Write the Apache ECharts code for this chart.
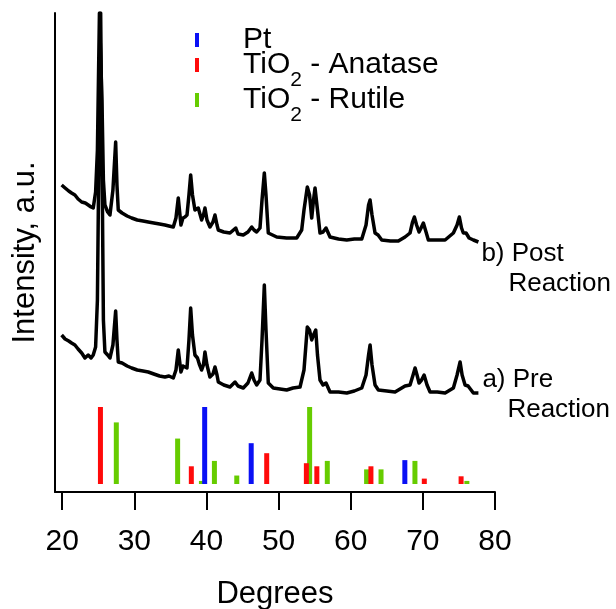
<!DOCTYPE html>
<html>
<head>
<meta charset="utf-8">
<script src="https://cdn.jsdelivr.net/npm/echarts@6/dist/echarts.min.js"></script>
<style>html,body{margin:0;padding:0;background:#fff}#c{width:616px;height:609px}</style>
</head>
<body>
<div id="c"></div>
<script>
// Reference peak positions (2θ, relative intensity %)
const ptPeaks = [[39.75,100],[46.2,53],[67.5,31]];
const anatasePeaks = [[25.3,100],[37.9,23],[48.35,40],[53.85,27],[55.3,23],[62.8,23],[70.2,7],[75.3,10]];
const rutilePeaks = [[27.5,80],[36.0,59],[39.3,4],[41.1,30],[44.2,11],[54.3,100],[56.75,30],[62.2,19],[64.2,19],[68.9,30],[76.1,4]];

// Measured patterns (2θ, intensity a.u.)
const curvePre = [
[19.92,157],[20.4,153],[20.9,151],[21.3,149],[21.76,147],[22.2,143],[22.7,139],[23.15,134],[23.6,137],[24.0,134],[24.3,137],[24.63,145],
[24.88,192],[25.16,392],[25.33,479],[25.51,342],[25.71,172],[25.92,140],[26.3,137],[26.62,134],[27.03,147],[27.41,181],[27.59,152],[27.77,130],
[28.3,129],[29.0,126],[29.63,124],[30.4,122],[31.2,121],[31.93,120],[32.7,118],[33.5,116],[34.24,115],[34.8,116],[35.4,114],[35.77,122],[36.09,142],[36.46,120],
[36.74,126],[37.02,125],[37.3,124],[37.57,152],[37.81,184],[38.06,157],[38.4,137],[38.75,134],[39.0,128],[39.33,122],[39.58,127],[39.79,140],
[40.07,127],[40.48,115],[40.9,118],[41.18,125],[41.46,117],[41.64,110],[42.4,107],[43.26,105],[43.96,110],[44.37,106],[45.1,104],[45.75,109],
[46.27,119],[46.59,112],[46.96,107],[47.42,112],[47.7,152],[48.02,207],[48.25,162],[48.57,109],[49.26,104],[50.2,103],[51.12,102],[52.0,104],[52.97,105],
[53.52,122],[53.98,165],[54.29,162],[54.59,152],[54.84,157],[55.15,162],[55.39,137],[55.74,112],[56.16,107],[56.57,109],[57.13,100],[58.3,100],
[59.45,99],[60.5,101],[61.53,104],[62.12,117],[62.47,137],[62.68,147],[62.95,127],[63.37,107],[63.83,102],[65.0,101],[66.14,100],[67.53,106],
[68.22,107],[68.64,117],[68.92,124],[69.19,117],[69.47,109],[69.82,112],[70.17,117],[70.58,107],[71.0,100],[72.0,100],[73.08,99],[74.23,104],
[74.74,117],[75.16,130],[75.44,117],[75.85,107],[76.27,106],[77.0,99],[77.7,99]
];
const curvePost = [
[19.92,307],[20.4,304],[20.9,301],[21.3,299],[21.76,297],[22.2,293],[22.7,290],[23.2,289],[23.61,287],[24.0,285],[24.3,284],[24.63,300],
[24.88,342],[25.16,479],[25.33,479],[25.51,392],[25.71,312],[25.92,287],[26.3,280],[26.62,277],[27.03,302],[27.41,350],[27.59,307],[27.77,282],
[28.3,279],[29.0,276],[29.63,274],[30.4,272],[31.2,271],[31.93,270],[32.7,269],[33.5,268],[34.24,267],[34.8,266],[35.4,265],[35.77,274],[36.09,294],[36.46,267],
[36.74,274],[37.02,275],[37.3,277],[37.57,297],[37.81,317],[38.06,297],[38.4,282],[38.86,284],[39.33,272],[39.58,277],[39.79,284],
[40.07,272],[40.48,265],[40.9,270],[41.18,277],[41.46,267],[41.64,262],[42.4,260],[43.26,259],[44.06,264],[44.37,258],[45.1,257],[45.75,260],
[46.27,265],[46.59,262],[46.96,260],[47.42,264],[47.7,292],[48.02,319],[48.25,297],[48.57,259],[49.74,255],[51.1,254],[52.51,254],[53.2,262],
[53.52,282],[53.98,305],[54.29,297],[54.59,274],[54.84,292],[55.05,304],[55.39,282],[55.74,259],[56.16,260],[56.57,264],[57.13,255],[58.3,253],
[59.45,252],[60.5,253],[61.53,253],[62.12,267],[62.47,287],[62.68,292],[62.95,277],[63.37,259],[63.79,257],[64.3,252],[65.5,251],[66.6,251],[67.53,255],
[68.22,259],[68.57,270],[68.82,275],[69.13,267],[69.47,260],[69.75,264],[70.07,269],[70.44,260],[70.76,252],[72.0,252],[73.08,252],[74.23,259],
[74.74,267],[75.06,275],[75.36,264],[75.61,259],[75.99,259],[76.41,254],[77.0,252],[77.7,250]
];
const xTicks = [20,30,40,50,60,70,80];
const labelPre = ['a) Pre', 'Reaction'];
const labelPost = ['b) Post', 'Reaction'];

const FONT = '"Liberation Sans", Arial, sans-serif';
const chart = echarts.init(document.getElementById('c'), null, {renderer:'canvas'});

function legendFor(name, fmt, top) {
  return {
    data: [name], orient: 'vertical', left: 195, top: top, padding: 0,
    icon: 'rect', itemWidth: 4, itemHeight: 14, selectedMode: false,
    formatter: fmt,
    textStyle: {
      fontFamily: FONT, color: '#000',
      rich: {
        g: {width: 39},
        a: {fontSize: 30, fontFamily: FONT, color: '#000'},
        s: {fontSize: 21, fontFamily: FONT, color: '#000', padding: [30,0,0,0]}
      }
    }
  };
}

const barCommon = {
  type: 'bar', xAxisIndex: 0, yAxisIndex: 1, barWidth: 5, barGap: '-100%',
  animation: false, silent: true
};

chart.setOption({
  animation: false,
  backgroundColor: '#fff',
  grid: {left: 55, right: 121, top: 13, bottom: 117, containLabel: false, outerBoundsMode: 'none'},
  legend: [
    legendFor('Pt', '{g|}{a|Pt}', 25),
    legendFor('TiO2 - Anatase', '{g|}{a|TiO}{s|2}{a| - Anatase}', 50),
    legendFor('TiO2 - Rutile', '{g|}{a|TiO}{s|2}{a| - Rutile}', 85)
  ],
  xAxis: {
    type: 'value', min: 19, max: 80,
    name: 'Degrees', nameLocation: 'middle', nameGap: 87,
    nameTextStyle: {fontSize: 31, fontFamily: FONT, color: '#000'},
    axisLine: {show: true, lineStyle: {color: '#000', width: 2}},
    axisTick: {show: true, length: 18, lineStyle: {color: '#000', width: 2}, customValues: xTicks},
    axisLabel: {customValues: xTicks, margin: 35, fontSize: 30, fontFamily: FONT, color: '#000'},
    splitLine: {show: false}
  },
  yAxis: [{
    type: 'value', min: 0, max: 479,
    name: 'Intensity, a.u.', nameLocation: 'middle', nameGap: 14,
    nameTextStyle: {fontSize: 31, fontFamily: FONT, color: '#000'},
    axisLine: {show: true, lineStyle: {color: '#000', width: 2}},
    axisTick: {show: false}, axisLabel: {show: false}, splitLine: {show: false}
  }, {
    type: 'value', min: -10.39, max: 611.69, show: false,
    axisLine: {show: false}, axisTick: {show: false}, axisLabel: {show: false}, splitLine: {show: false}
  }],
  series: [
    Object.assign({name: 'TiO2 - Rutile', data: rutilePeaks, itemStyle: {color: '#66cc00'}}, barCommon),
    Object.assign({name: 'TiO2 - Anatase', data: anatasePeaks, itemStyle: {color: '#ff0a0a'}}, barCommon),
    Object.assign({name: 'Pt', data: ptPeaks, itemStyle: {color: '#0a10f5'}}, barCommon),
    {
      name: 'pre', type: 'line', data: curvePre, xAxisIndex: 0, yAxisIndex: 0,
      showSymbol: false, symbol: 'none', clip: true, silent: true,
      lineStyle: {color: '#000', width: 3.5, join: 'round'}, z: 5,
      endLabel: {show: true, distance: 4, offset: [0, 2], formatter: '{a|' + labelPre[0] + '}\n{r|' + labelPre[1] + '}',
        rich: {a: {fontSize: 26, lineHeight: 30, fontFamily: FONT, color: '#000'},
               r: {fontSize: 26, lineHeight: 30, fontFamily: FONT, color: '#000', padding: [0,0,0,25]}}}
    },
    {
      name: 'post', type: 'line', data: curvePost, xAxisIndex: 0, yAxisIndex: 0,
      showSymbol: false, symbol: 'none', clip: true, silent: true,
      lineStyle: {color: '#000', width: 3.5, join: 'round'}, z: 5,
      endLabel: {show: true, distance: 3, offset: [0, 27], formatter: '{a|' + labelPost[0] + '}\n{r|' + labelPost[1] + '}',
        rich: {a: {fontSize: 26, lineHeight: 30, fontFamily: FONT, color: '#000'},
               r: {fontSize: 26, lineHeight: 30, fontFamily: FONT, color: '#000', padding: [0,0,0,27]}}}
    }
  ]
});
</script>
</body>
</html>
